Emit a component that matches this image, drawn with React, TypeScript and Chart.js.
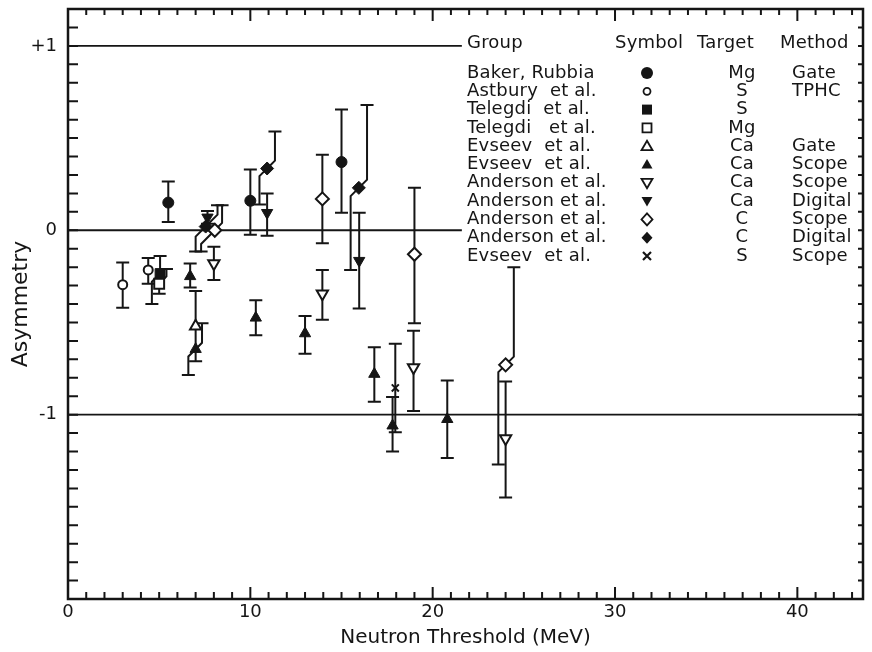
import React, { useEffect, useRef } from 'react';
import { Chart, registerables } from 'chart.js';

Chart.register(...registerables);

// ---------------- data ----------------
// Baker, Rubbia  (Mg, Gate)  filled circle
const bakerX = [5.5, 10.0, 15.0];
const bakerY = [0.15, 0.16, 0.37];
const bakerLo = [0.045, -0.025, 0.095];
const bakerHi = [0.265, 0.33, 0.655];

// Astbury et al. (S, TPHC)  open circle
const astburyX = [3.0, 4.4];
const astburyY = [-0.295, -0.215];
const astburyLo = [-0.42, -0.29];
const astburyHi = [-0.175, -0.15];

// Telegdi et al. (S) filled square
const telegdiSX = [5.05];
const telegdiSY = [-0.235];
const telegdiSLo = [-0.4];
const telegdiSHi = [-0.14];
const telegdiSLoX = [4.6];
const telegdiSHiX = [null];

// Telegdi et al. (Mg) open square
const telegdiMgX = [5.0];
const telegdiMgY = [-0.29];
const telegdiMgLo = [-0.345];
const telegdiMgHi = [-0.21];
const telegdiMgLoX = [null];
const telegdiMgHiX = [5.4];

// Evseev et al. (Ca, Gate) open triangle
const evseevGateX = [7.0];
const evseevGateY = [-0.52];
const evseevGateLo = [-0.71];
const evseevGateHi = [-0.33];

// Evseev et al. (Ca, Scope) filled triangle
const evseevScopeX = [6.7, 7.0, 10.3, 13.0, 16.8, 17.8, 20.8];
const evseevScopeY = [-0.25, -0.645, -0.475, -0.56, -0.78, -1.06, -1.025];
const evseevScopeLo = [-0.31, -0.785, -0.57, -0.67, -0.93, -1.2, -1.235];
const evseevScopeHi = [-0.18, -0.505, -0.38, -0.465, -0.635, -0.905, -0.815];
const evseevScopeLoX = [null, 6.6, null, null, null, null, null];
const evseevScopeHiX = [null, 7.35, null, null, null, null, null];

// Anderson et al. (Ca, Scope) open inverted triangle
const andCaScopeX = [8.0, 13.95, 18.95, 24.0];
const andCaScopeY = [-0.18, -0.345, -0.745, -1.13];
const andCaScopeLo = [-0.27, -0.485, -0.98, -1.45];
const andCaScopeHi = [-0.09, -0.215, -0.545, -0.82];

// Anderson et al. (Ca, Digital) filled inverted triangle
const andCaDigX = [7.65, 10.92, 15.97];
const andCaDigY = [0.07, 0.095, -0.165];
const andCaDigLo = [0.035, -0.03, -0.425];
const andCaDigHi = [0.105, 0.2, 0.095];

// Anderson et al. (C, Scope) open diamond
const andCScopeX = [8.05, 13.95, 19.0, 24.0];
const andCScopeY = [0.0, 0.17, -0.13, -0.73];
const andCScopeLo = [-0.115, -0.07, -0.505, -1.27];
const andCScopeHi = [0.135, 0.41, 0.23, -0.2];
const andCScopeLoX = [7.3, null, null, 23.6];
const andCScopeHiX = [8.45, null, null, 24.45];

// Anderson et al. (C, Digital) filled diamond
const andCDigX = [7.55, 10.92, 15.95];
const andCDigY = [0.02, 0.335, 0.23];
const andCDigLo = [-0.115, 0.14, -0.215];
const andCDigHi = [0.135, 0.535, 0.68];
const andCDigLoX = [7.0, 10.5, 15.5];
const andCDigHiX = [8.2, 11.35, 16.4];

// Evseev et al. (S, Scope) cross
const evseevSX = [17.95];
const evseevSY = [-0.855];
const evseevSLo = [-1.095];
const evseevSHi = [-0.615];

// legend table
const groupNames = ['Baker, Rubbia', 'Astbury  et al.', 'Telegdi  et al.', 'Telegdi   et al.', 'Evseev  et al.', 'Evseev  et al.', 'Anderson et al.', 'Anderson et al.', 'Anderson et al.', 'Anderson et al.', 'Evseev  et al.'];
const symbolKinds = ['dot', 'ring', 'square', 'box', 'tri', 'triF', 'tridown', 'tridownF', 'diamond', 'diamondF', 'cross'];
const targets = ['Mg', 'S', 'S', 'Mg', 'Ca', 'Ca', 'Ca', 'Ca', 'C', 'C', 'S'];
const methods = ['Gate', 'TPHC', '', '', 'Gate', 'Scope', 'Scope', 'Digital', 'Scope', 'Digital', 'Scope'];
const legendHeaders = ['Group', 'Symbol', 'Target', 'Method'];

// reference levels
const refLevels = [1, 0, -1];
const refEnds = [21.6, 21.6, 43.6];

// axes
const xMin = 0, xMax = 43.6, yMin = -2, yMax = 1.2;
const xTickLabels: Record<number, string> = { 0: '0', 10: '10', 20: '20', 30: '30', 40: '40' };
const yTickLabels: Record<string, string> = { '1': '+1', '0': '0', '-1': '-1' };

const INK = '#151515';
const FONT = '"DejaVu Sans", "Liberation Sans", sans-serif';

type Style = { pointStyle: any; radius: number; filled: boolean; rotation?: number };
const styles: Record<string, Style> = {
  dot: { pointStyle: 'circle', radius: 5.5, filled: true },
  ring: { pointStyle: 'circle', radius: 4.5, filled: false },
  square: { pointStyle: 'rect', radius: 7, filled: true },
  box: { pointStyle: 'rect', radius: 7, filled: false },
  tri: { pointStyle: 'triangle', radius: 6.5, filled: false },
  triF: { pointStyle: 'triangle', radius: 6.5, filled: true },
  tridown: { pointStyle: 'triangle', radius: 6.5, filled: false, rotation: 180 },
  tridownF: { pointStyle: 'triangle', radius: 6.5, filled: true, rotation: 180 },
  diamond: { pointStyle: 'rectRot', radius: 6.5, filled: false },
  diamondF: { pointStyle: 'rectRot', radius: 6.5, filled: true },
  cross: { pointStyle: 'crossRot', radius: 5, filled: false },
};

function makeSet(label: string, kind: string, xs: number[], ys: number[], lo: number[], hi: number[], loX?: (number | null)[], hiX?: (number | null)[]) {
  const s = styles[kind];
  return {
    label,
    data: xs.map((x, i) => ({ x, y: ys[i] })),
    pointStyle: s.pointStyle,
    pointRadius: s.radius,
    pointRotation: s.rotation || 0,
    backgroundColor: s.filled ? INK : '#ffffff',
    borderColor: INK,
    borderWidth: s.filled ? 1 : 2,
    showLine: false,
    errs: { lo, hi, loX: loX || [], hiX: hiX || [] },
  };
}

function drawSymbol(ctx: CanvasRenderingContext2D, kind: string, cx: number, cy: number) {
  ctx.save();
  ctx.lineWidth = 1.8;
  ctx.strokeStyle = INK;
  ctx.fillStyle = INK;
  ctx.beginPath();
  let fill = false;
  switch (kind) {
    case 'dot': ctx.arc(cx, cy, 6, 0, Math.PI * 2); fill = true; break;
    case 'ring': ctx.arc(cx, cy, 3.5, 0, Math.PI * 2); break;
    case 'square': ctx.rect(cx - 5, cy - 5, 10, 10); fill = true; break;
    case 'box': ctx.rect(cx - 4.5, cy - 4.5, 9, 9); break;
    case 'tri': case 'triF':
      ctx.moveTo(cx, cy - 5.5); ctx.lineTo(cx + 5.5, cy + 4); ctx.lineTo(cx - 5.5, cy + 4); ctx.closePath();
      fill = kind === 'triF'; break;
    case 'tridown': case 'tridownF':
      ctx.moveTo(cx, cy + 5.5); ctx.lineTo(cx + 5.5, cy - 4); ctx.lineTo(cx - 5.5, cy - 4); ctx.closePath();
      fill = kind === 'tridownF'; break;
    case 'diamond': case 'diamondF':
      ctx.moveTo(cx, cy - 6); ctx.lineTo(cx + 5.5, cy); ctx.lineTo(cx, cy + 6); ctx.lineTo(cx - 5.5, cy); ctx.closePath();
      fill = kind === 'diamondF'; break;
    case 'cross':
      ctx.moveTo(cx - 4, cy - 4); ctx.lineTo(cx + 4, cy + 4); ctx.moveTo(cx + 4, cy - 4); ctx.lineTo(cx - 4, cy + 4);
      ctx.lineWidth = 2.2; break;
  }
  if (fill) ctx.fill(); else ctx.stroke();
  ctx.restore();
}

const framePlugin = {
  id: 'frameAndBars',
  beforeDatasetsDraw(chart: any) {
    const { ctx, scales: { x, y } } = chart;
    ctx.save();
    // reference lines
    ctx.strokeStyle = INK;
    ctx.lineWidth = 1.8;
    refLevels.forEach((lv, i) => {
      const py = y.getPixelForValue(lv);
      ctx.beginPath();
      ctx.moveTo(x.getPixelForValue(xMin), py);
      ctx.lineTo(x.getPixelForValue(refEnds[i]), py);
      ctx.stroke();
    });
    // error bars
    ctx.lineWidth = 2;
    const cap = 6.5;
    chart.data.datasets.forEach((ds: any) => {
      const e = ds.errs;
      if (!e) return;
      ds.data.forEach((p: any, i: number) => {
        const px = x.getPixelForValue(p.x);
        const py = y.getPixelForValue(p.y);
        const hiPx = y.getPixelForValue(e.hi[i]);
        const loPx = y.getPixelForValue(e.lo[i]);
        const hx = e.hiX[i] != null ? x.getPixelForValue(e.hiX[i]) : px;
        const lx = e.loX[i] != null ? x.getPixelForValue(e.loX[i]) : px;
        ctx.beginPath();
        ctx.moveTo(px, py);
        if (hx !== px) ctx.lineTo(hx, py - Math.abs(hx - px));
        ctx.lineTo(hx, hiPx);
        ctx.moveTo(hx - cap, hiPx);
        ctx.lineTo(hx + cap, hiPx);
        ctx.moveTo(px, py);
        if (lx !== px) ctx.lineTo(lx, py + Math.abs(lx - px));
        ctx.lineTo(lx, loPx);
        ctx.moveTo(lx - cap, loPx);
        ctx.lineTo(lx + cap, loPx);
        ctx.stroke();
      });
    });
    ctx.restore();
  },
  afterDraw(chart: any) {
    const { ctx, chartArea: a, scales: { x, y } } = chart;
    ctx.save();
    ctx.strokeStyle = INK;
    // frame
    ctx.lineWidth = 2.5;
    ctx.strokeRect(a.left, a.top, a.right - a.left, a.bottom - a.top);
    // x ticks (bottom and top, inward)
    ctx.lineWidth = 2;
    ctx.beginPath();
    for (let v = Math.ceil(xMin); v <= xMax; v++) {
      const px = x.getPixelForValue(v);
      const major = v % 10 === 0;
      ctx.moveTo(px, a.bottom);
      ctx.lineTo(px, a.bottom - (major ? 12 : 7));
      ctx.moveTo(px, a.top);
      ctx.lineTo(px, a.top + (major ? 12 : 6));
    }
    // y ticks (left long, right short)
    for (let k = Math.round(yMin * 10); k <= Math.round(yMax * 10); k++) {
      const py = y.getPixelForValue(k / 10);
      ctx.moveTo(a.left, py);
      ctx.lineTo(a.left + 10, py);
      ctx.moveTo(a.right, py);
      ctx.lineTo(a.right - 5, py);
    }
    ctx.stroke();

    // legend table
    ctx.fillStyle = INK;
    ctx.font = '18px ' + FONT;
    ctx.textBaseline = 'middle';
    try { (ctx as any).letterSpacing = '0.2px'; } catch (err) { /* ignore */ }
    const headY = 43;
    ctx.textAlign = 'left';
    ctx.fillText(legendHeaders[0], 467, headY);
    ctx.fillText(legendHeaders[1], 615, headY);
    ctx.fillText(legendHeaders[2], 697, headY);
    ctx.fillText(legendHeaders[3], 780, headY);
    groupNames.forEach((g, i) => {
      const ry = 73 + i * 18.3;
      ctx.textAlign = 'left';
      ctx.fillText(g, 467, ry);
      drawSymbol(ctx, symbolKinds[i], 647, ry);
      ctx.fillStyle = INK;
      ctx.textAlign = 'center';
      ctx.fillText(targets[i], 742, ry);
      ctx.textAlign = 'left';
      if (methods[i]) ctx.fillText(methods[i], 792, ry);
    });
    ctx.restore();
  },
};

export default function App() {
  const ref = useRef<HTMLCanvasElement>(null);
  useEffect(() => {
    if (!ref.current) return;
    const datasets = [
      makeSet('Baker, Rubbia', 'dot', bakerX, bakerY, bakerLo, bakerHi),
      makeSet('Astbury et al.', 'ring', astburyX, astburyY, astburyLo, astburyHi),
      makeSet('Telegdi et al. (S)', 'square', telegdiSX, telegdiSY, telegdiSLo, telegdiSHi, telegdiSLoX, telegdiSHiX),
      makeSet('Telegdi et al. (Mg)', 'box', telegdiMgX, telegdiMgY, telegdiMgLo, telegdiMgHi, telegdiMgLoX, telegdiMgHiX),
      makeSet('Evseev et al. (Ca, Gate)', 'tri', evseevGateX, evseevGateY, evseevGateLo, evseevGateHi),
      makeSet('Evseev et al. (Ca, Scope)', 'triF', evseevScopeX, evseevScopeY, evseevScopeLo, evseevScopeHi, evseevScopeLoX, evseevScopeHiX),
      makeSet('Anderson et al. (Ca, Scope)', 'tridown', andCaScopeX, andCaScopeY, andCaScopeLo, andCaScopeHi),
      makeSet('Anderson et al. (Ca, Digital)', 'tridownF', andCaDigX, andCaDigY, andCaDigLo, andCaDigHi),
      makeSet('Anderson et al. (C, Scope)', 'diamond', andCScopeX, andCScopeY, andCScopeLo, andCScopeHi, andCScopeLoX, andCScopeHiX),
      makeSet('Anderson et al. (C, Digital)', 'diamondF', andCDigX, andCDigY, andCDigLo, andCDigHi, andCDigLoX, andCDigHiX),
      makeSet('Evseev et al. (S, Scope)', 'cross', evseevSX, evseevSY, evseevSLo, evseevSHi),
    ];
    const chart = new Chart(ref.current, {
      type: 'scatter',
      data: { datasets: datasets as any },
      options: {
        responsive: false,
        animation: false,
        devicePixelRatio: 1,
        layout: { padding: { left: 0, right: 3, top: 9, bottom: 0 } },
        plugins: { legend: { display: false }, tooltip: { enabled: false } },
        scales: {
          x: {
            type: 'linear',
            min: xMin,
            max: xMax,
            grid: { display: false, drawTicks: false },
            border: { display: false },
            ticks: {
              stepSize: 10,
              includeBounds: false,
              autoSkip: false,
              maxRotation: 0,
              padding: 3,
              color: INK,
              font: { family: FONT, size: 18 },
              callback: (v: any) => xTickLabels[Number(v)] ?? '',
            },
            title: {
              display: true,
              text: 'Neutron Threshold (MeV)',
              color: INK,
              font: { family: FONT, size: 20 },
              padding: { top: 0, bottom: 2 },
            },
            afterFit: (s: any) => { s.height = 53; s.paddingLeft = 0; s.paddingRight = 0; },
          },
          y: {
            type: 'linear',
            min: yMin,
            max: yMax,
            grid: { display: false, drawTicks: false },
            border: { display: false },
            ticks: {
              stepSize: 1,
              includeBounds: false,
              autoSkip: false,
              padding: 11,
              color: INK,
              font: { family: FONT, size: 18 },
              callback: (v: any) => yTickLabels[String(Number(v))] ?? '',
            },
            title: {
              display: true,
              text: 'Asymmetry',
              color: INK,
              font: { family: FONT, size: 22 },
              padding: { top: 8, bottom: 0 },
            },
            afterFit: (s: any) => { s.width = 68; s.paddingTop = 0; s.paddingBottom = 0; },
          },
        },
      },
      plugins: [framePlugin as any],
    });
    return () => chart.destroy();
  }, []);
  return (
    <div style={{ position: 'absolute', left: 0, top: 0, width: 872, height: 652, background: '#ffffff' }}>
      <canvas ref={ref} width={872} height={652} style={{ display: 'block' }} />
    </div>
  );
}
